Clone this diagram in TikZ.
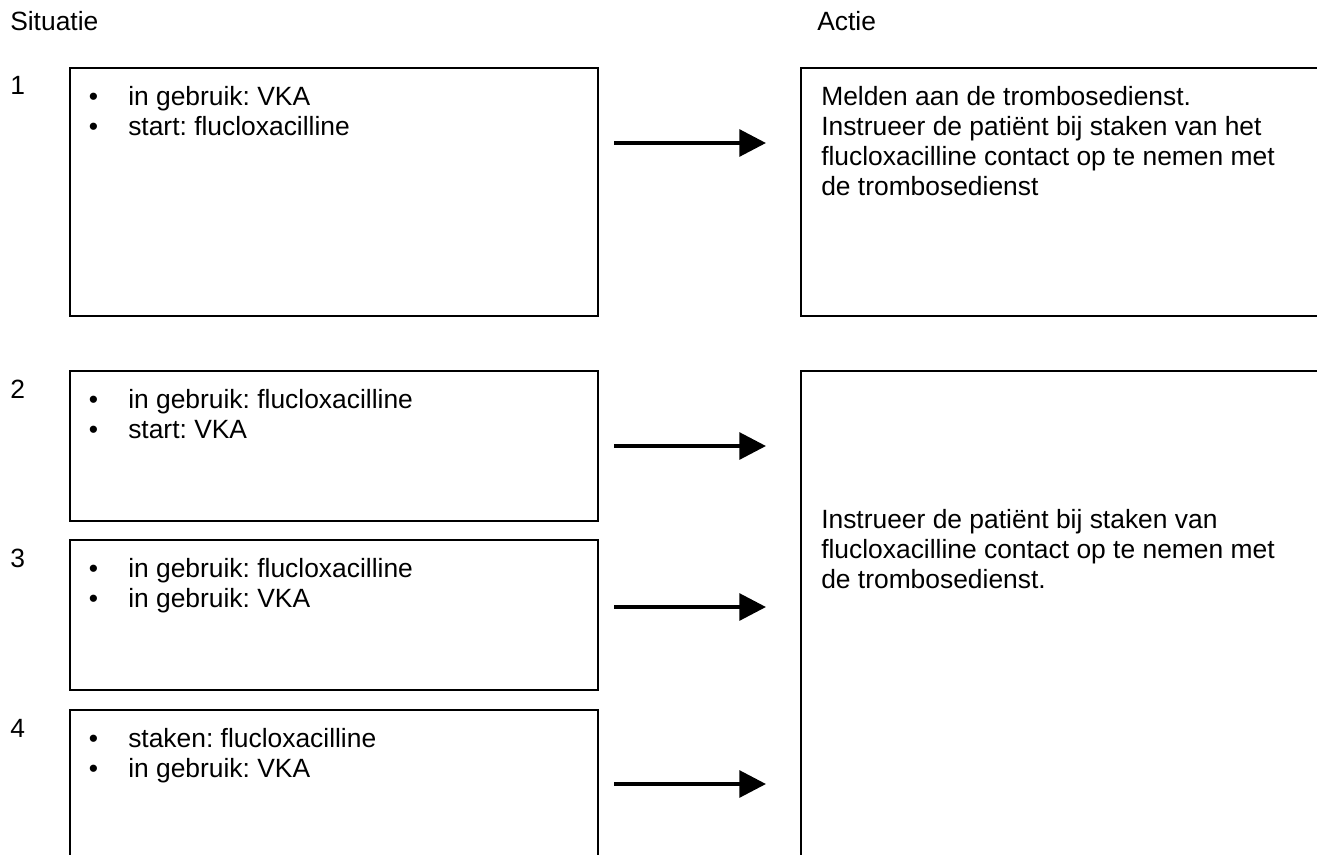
\documentclass[tikz,border=0pt]{standalone}
\usepackage{fontspec}
\setmainfont{Liberation Sans}
\usetikzlibrary{positioning,arrows.meta}
\frenchspacing

\begin{document}
\begin{tikzpicture}[x=0.75pt, y=-0.75pt,
  kader/.style={draw=black, line width=1.5pt, inner sep=0pt, outer sep=0pt, anchor=north west},
  tekst/.style={anchor=base west, inner sep=0pt, font=\fontsize{19.8}{23.25}\selectfont},
  pijl/.style={line width=3pt, -{Triangle[length=20pt,width=20pt]}, shorten >=26.25pt}]
  \useasboundingbox (0,0) rectangle (1317,854);
  \clip (0,0) rectangle (1317,854);

  % Headings
  \node[tekst] (kopsit) at (10,30) {Situatie};
  \node[tekst] (kopact) at (817,30) {Actie};

  % Situatie boxes
  \node[kader, minimum width=396pt, minimum height=186pt] (sit1) at (70,68) {};
  \node[kader, minimum width=396pt, minimum height=112.5pt] (sit2) at (70,371) {};
  \node[kader, minimum width=396pt, minimum height=112.5pt] (sit3) at (70,540) {};
  \node[kader, minimum width=396pt, minimum height=150pt] (sit4) at (70,710) {};

  % Actie boxes (open to the right)
  \node[kader, minimum width=450pt, minimum height=186pt] (act1) at (801,68) {};
  \node[kader, minimum width=450pt, minimum height=375pt] (act2) at (801,371) {};

  % Numbers
  \node[tekst] (nr1) at (10,94) {1};
  \node[tekst] (nr2) at (10,398) {2};
  \node[tekst] (nr3) at (10,567) {3};
  \node[tekst] (nr4) at (10,737) {4};

  % Situatie 1
  \node[tekst] (b1a) at (88.5,105) {•};
  \node[tekst] (t1a) at (128,105) {in gebruik: VKA};
  \node[tekst] (b1b) at (88.5,135) {•};
  \node[tekst] (t1b) at (128,135) {start: flucloxacilline};

  % Situatie 2
  \node[tekst] (b2a) at (88.5,408) {•};
  \node[tekst] (t2a) at (128,408) {in gebruik: flucloxacilline};
  \node[tekst] (b2b) at (88.5,438) {•};
  \node[tekst] (t2b) at (128,438) {start: VKA};

  % Situatie 3
  \node[tekst] (b3a) at (88.5,577) {•};
  \node[tekst] (t3a) at (128,577) {in gebruik: flucloxacilline};
  \node[tekst] (b3b) at (88.5,607) {•};
  \node[tekst] (t3b) at (128,607) {in gebruik: VKA};

  % Situatie 4
  \node[tekst] (b4a) at (88.5,747) {•};
  \node[tekst] (t4a) at (128,747) {staken: flucloxacilline};
  \node[tekst] (b4b) at (88.5,777) {•};
  \node[tekst] (t4b) at (128,777) {in gebruik: VKA};

  % Actie 1
  \node[tekst] (a1a) at (821,105) {Melden aan de trombosedienst.};
  \node[tekst] (a1b) at (821,135) {Instrueer de patiënt bij staken van het};
  \node[tekst] (a1c) at (821,165) {flucloxacilline contact op te nemen met};
  \node[tekst] (a1d) at (821,195) {de trombosedienst};

  % Actie 2
  \node[tekst] (a2a) at (821,528) {Instrueer de patiënt bij staken van};
  \node[tekst] (a2b) at (821,558) {flucloxacilline contact op te nemen met};
  \node[tekst] (a2c) at (821,588) {de trombosedienst.};

  % Arrows
  \coordinate (p1) at (614,143);
  \coordinate (p2) at (614,446);
  \coordinate (p3) at (614,607);
  \coordinate (p4) at (614,784);
  \draw[pijl] (p1) -- (p1 -| act1.west);
  \draw[pijl] (p2) -- (p2 -| act2.west);
  \draw[pijl] (p3) -- (p3 -| act2.west);
  \draw[pijl] (p4) -- (p4 -| act2.west);
\end{tikzpicture}
\end{document}
